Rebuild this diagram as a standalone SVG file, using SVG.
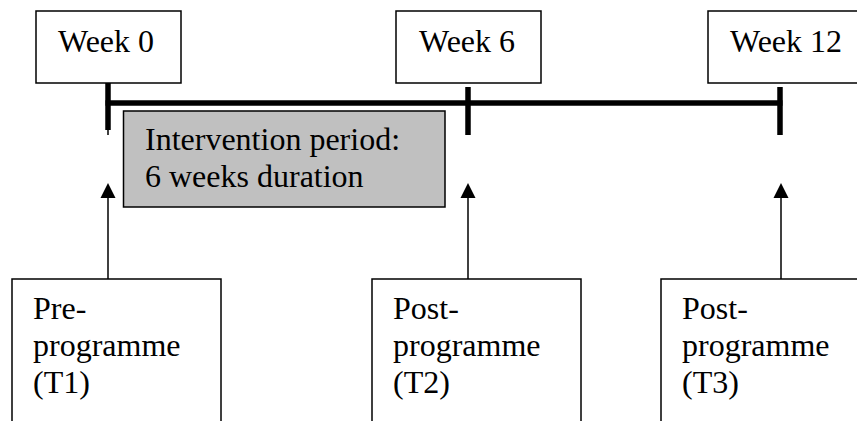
<svg xmlns="http://www.w3.org/2000/svg" width="857" height="421" viewBox="0 0 857 421">
<style>
.box{fill:#fff;stroke:#000;stroke-width:1.5}
.gray{fill:#c0c0c0;stroke:#000;stroke-width:1.5}
.t{font-family:"Liberation Serif","Times New Roman",serif;font-size:32px;fill:#000}
.thick{stroke:#000;stroke-width:5.5;fill:none}
.thin{stroke:#000;stroke-width:1.5;fill:none}
</style>
<defs>
<marker id="ah" markerWidth="16" markerHeight="16" refX="8" refY="1" orient="auto-start-reverse" markerUnits="userSpaceOnUse" viewBox="0 0 16 16">
<path d="M8,0 L15.5,15 L0.5,15 Z" fill="#000"/>
</marker>
</defs>
<g id="connectors">
<line class="thick" x1="108" y1="83" x2="108" y2="130"/>
<line class="thin" x1="108" y1="130" x2="108" y2="135"/>
<line class="thick" x1="105.5" y1="103" x2="782.5" y2="103"/>
<line class="thick" x1="468" y1="87" x2="468" y2="135"/>
<line class="thick" x1="780" y1="87" x2="780" y2="135"/>
<line class="thin" x1="108" y1="279" x2="108" y2="197"/>
<path d="M108,183 L115.5,198 L100.5,198 Z" fill="#000"/>
<line class="thin" x1="468" y1="279" x2="468" y2="197"/>
<path d="M468,183 L475.5,198 L460.5,198 Z" fill="#000"/>
<line class="thin" x1="781" y1="279" x2="781" y2="197"/>
<path d="M781,183 L788.5,198 L773.5,198 Z" fill="#000"/>
</g>
<g id="week0">
<rect class="box" x="36" y="11" width="145" height="72"/>
<text class="t" x="58" y="52">Week 0</text>
</g>
<g id="week6">
<rect class="box" x="396" y="11" width="145" height="72"/>
<text class="t" x="419" y="52">Week 6</text>
</g>
<g id="week12">
<rect class="box" x="708" y="11" width="160" height="72"/>
<text class="t" x="730" y="52">Week 12</text>
</g>
<g id="intervention">
<rect class="gray" x="123.5" y="111" width="321.5" height="96"/>
<text class="t" x="145" y="150">Intervention period:</text>
<text class="t" x="145" y="187">6 weeks duration</text>
</g>
<g id="t1">
<rect class="box" x="12" y="279" width="209" height="160"/>
<text class="t" x="33" y="319">Pre-</text>
<text class="t" x="33" y="356">programme</text>
<text class="t" x="33" y="393">(T1)</text>
</g>
<g id="t2">
<rect class="box" x="372" y="279" width="209" height="160"/>
<text class="t" x="393" y="319">Post-</text>
<text class="t" x="393" y="356">programme</text>
<text class="t" x="393" y="393">(T2)</text>
</g>
<g id="t3">
<rect class="box" x="661" y="279" width="220" height="160"/>
<text class="t" x="682" y="319">Post-</text>
<text class="t" x="682" y="356">programme</text>
<text class="t" x="682" y="393">(T3)</text>
</g>
</svg>
